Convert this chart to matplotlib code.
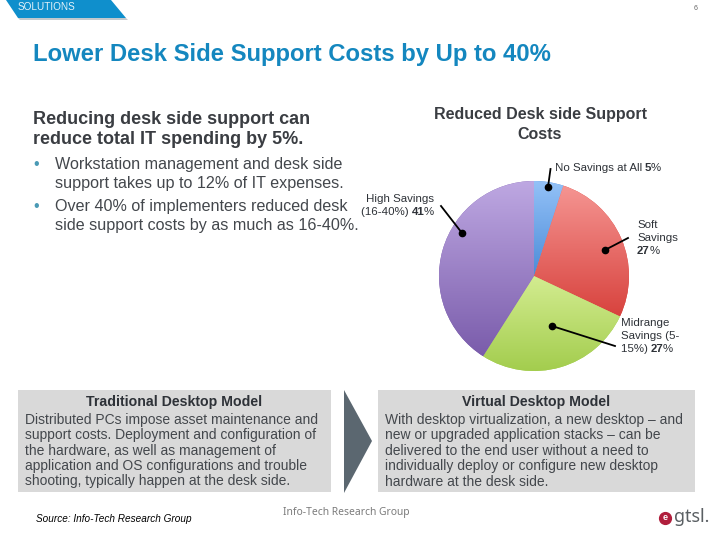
#!/usr/bin/env python3
"""Recreate the desk side support costs slide with its pie chart."""

import numpy as np
import matplotlib

matplotlib.use("Agg")
import matplotlib.pyplot as plt
from matplotlib.colors import LinearSegmentedColormap
from matplotlib.patches import Polygon, Rectangle

plt.rcParams["font.family"] = ["Liberation Sans", "DejaVu Sans"]

# Pie data, clockwise from the top
pie_names = ["No Savings", "Soft Savings", "Midrange Savings", "High Savings"]
pie_values = [5, 27, 27, 41]
pie_top_colors = ["#93c1f7", "#f59592", "#d3ec90", "#bea8e2"]
pie_bottom_colors = ["#4c8cd8", "#d8433e", "#a3cd4e", "#7a5cab"]

title = "Lower Desk Side Support Costs by Up to 40%"
intro_lines = ["Reducing desk side support can", "reduce total IT spending by 5%."]
chart_title_lines = ["Reduced Desk side Support", "Costs"]
bullet_lines = [
    "Workstation management and desk side",
    "support takes up to 12% of IT expenses.",
    "Over 40% of implementers reduced desk",
    "side support costs by as much as 16-40%.",
]
left_body = [
    "Distributed PCs impose asset maintenance and",
    "support costs. Deployment and configuration of",
    "the hardware, as well as management of",
    "application and OS configurations and trouble",
    "shooting, typically happen at the desk side.",
]
right_body = [
    "With desktop virtualization, a new desktop \u2013 and",
    "new or upgraded application stacks \u2013 can be",
    "delivered to the end user without a need to",
    "individually deploy or configure new desktop",
    "hardware at the desk side.",
]

BLUE = "#1487bf"
DARK = "#2e3238"
TEXT = "#43474c"

fig = plt.figure(figsize=(7.2, 5.4), dpi=100, facecolor="white")

# Page axes in pixels, origin top left like the slide
page = fig.add_axes([0, 0, 1, 1])
page.set_xlim(0, 720)
page.set_ylim(540, 0)
page.axis("off")


def px(size):
    return size * 0.72


def label(x, y, parts, size=11.5):
    """Write (text, bold) parts one after the other on a line."""
    renderer = fig.canvas.get_renderer()
    for text, bold in parts:
        t = page.text(x, y, text, fontsize=px(size), va="center", color=DARK,
                      fontweight="bold" if bold else "normal")
        x += t.get_window_extent(renderer).width - 0.5


# Ribbon at the top
page.add_patch(Polygon([(18, 18), (126, 18), (128, 20), (20, 20)], closed=True,
                       fc="#c3c9cd", ec="none"))
page.add_patch(Polygon([(6, 0), (111, 0), (126, 18), (18, 18)], closed=True,
                       fc="#0f8fcc", ec="none"))
page.text(18, 7.5, "SOLUTIONS", color="#e4f2f9", fontsize=px(10), va="center")
page.text(696, 8, "6", color="#666666", fontsize=px(7), va="center", ha="center")

page.text(33, 54, title, color=BLUE, fontsize=px(23.9), fontweight="bold", va="center")

for line, y in zip(intro_lines, [120, 140]):
    page.text(33, y, line, color="#3a3d42", fontsize=px(18), fontweight="bold", va="center")
for line, y in zip(chart_title_lines, [115, 134.5]):
    page.text(540, y, line, color="#3a3d42", fontsize=px(16), fontweight="bold",
              va="center", ha="center")

for line, y in zip(bullet_lines, [164, 183.5, 206, 225.5]):
    page.text(55, y, line, color=TEXT, fontsize=px(16.1), va="center")
for y in [164, 206]:
    page.text(33, y, "\u2022", color="#4a9ab5", fontsize=px(16), va="center")

# Pie chart, axes box sized to the circle
pie_ax = fig.add_axes([439 / 720, (540 - 371) / 540, 190 / 720, 190 / 540])
wedges, _ = pie_ax.pie(pie_values, startangle=90, counterclock=False, radius=1,
                       colors=pie_bottom_colors)
for wedge, top, bottom in zip(wedges, pie_top_colors, pie_bottom_colors):
    ext = wedge.get_path().get_extents()
    cmap = LinearSegmentedColormap.from_list("shade", [top, bottom])
    shade = np.linspace(0, 1, 128).reshape(-1, 1)
    img = pie_ax.imshow(shade, cmap=cmap, aspect="auto", origin="upper",
                        extent=(ext.x0, ext.x1, ext.y0, ext.y1), zorder=2)
    img.set_clip_path(wedge)
pie_ax.set_aspect("equal")
pie_ax.set_xlim(-1, 1)
pie_ax.set_ylim(-1, 1)
pie_ax.axis("off")

# Leader lines sit over the pie, so they get their own clear axes
lead = fig.add_axes([0, 0, 1, 1], facecolor="none")
lead.set_xlim(0, 720)
lead.set_ylim(540, 0)
lead.axis("off")
leaders = [
    ((550.5, 169), (548, 187)),
    ((441, 206), (462, 233)),
    ((628, 238), (605, 250)),
    ((615, 346), (552, 326)),
]
for start, end in leaders:
    lead.plot([start[0], end[0]], [start[1], end[1]], color="black", lw=1.3)
    lead.plot(end[0], end[1], "o", color="black", ms=4.5)

fig.canvas.draw()

label(555, 168, [("No Savings at All ", False), ("5", True), ("%", False)])
label(366, 199, [("High Savings", False)])
label(361, 212, [("(16-40%) ", False), ("41", True), ("%", False)])
label(637, 225, [("Soft", False)])
label(637, 238, [("Savings", False)])
label(637, 251, [("27", True), ("%", False)])
label(621, 323, [("Midrange", False)])
label(621, 336, [("Savings (5-", False)])
label(621, 349, [("15%) ", False), ("27", True), ("%", False)])

# Bottom boxes and arrow
page.add_patch(Rectangle((18, 390), 313, 102, fc="#d9d9d9", ec="none"))
page.add_patch(Rectangle((378, 390), 317, 102, fc="#d9d9d9", ec="none"))
page.add_patch(Polygon([(344, 390), (372, 441), (344, 493)], closed=True,
                       fc="#5b6770", ec="none"))

body_ys = [420, 435.5, 451, 466, 481.5]
page.text(174.5, 402, "Traditional Desktop Model", color=DARK, fontsize=px(14.1),
          fontweight="bold", va="center", ha="center")
page.text(536, 402, "Virtual Desktop Model", color=DARK, fontsize=px(14.1),
          fontweight="bold", va="center", ha="center")
for line, y in zip(left_body, body_ys):
    page.text(25, y, line, color=TEXT, fontsize=px(13.9), va="center")
for line, y in zip(right_body, body_ys):
    page.text(385, y, line, color=TEXT, fontsize=px(13.9), va="center")

# Footer
page.text(36, 518.5, "Source: Info-Tech Research Group", color="black", fontsize=px(10),
          style="italic", va="center")
page.text(283, 512, "Info-Tech Research Group", color="#7b7b7b", fontsize=px(10.3),
          family="Noto Sans", va="center")
page.plot(665, 518, "o", color="#b01e3c", ms=8.5)
page.text(665, 517.5, "e", color="white", fontsize=px(9), fontweight="bold",
          va="center", ha="center")
page.text(674, 517, "gtsl.", color="#5a5f63", fontsize=px(18), va="center", family="Noto Sans")

fig.savefig("out.png", dpi=100)
